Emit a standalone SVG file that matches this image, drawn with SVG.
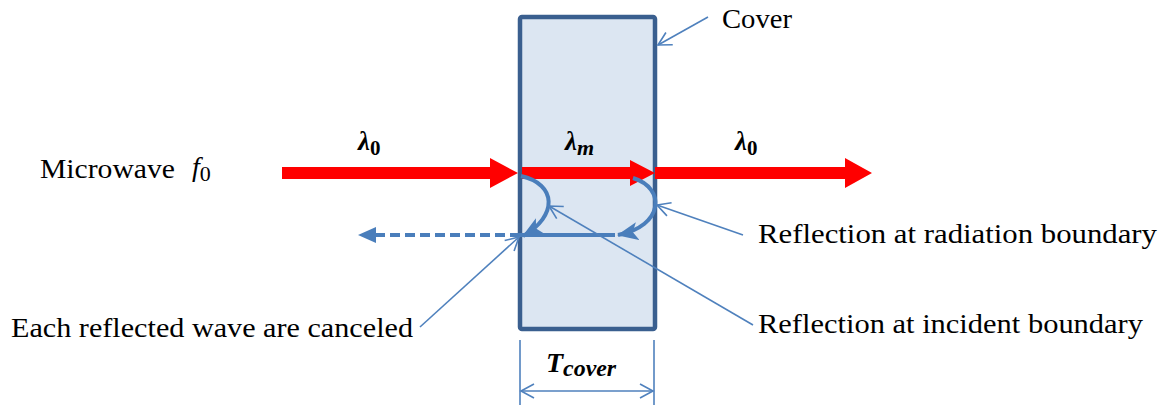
<svg xmlns="http://www.w3.org/2000/svg" width="1167" height="405" viewBox="0 0 1167 405">
<defs>
<style>
.lbl{font-family:"Liberation Serif","Times New Roman",serif;font-size:28px;fill:#000}
.math{font-family:"Liberation Serif","Times New Roman",serif;font-weight:bold;font-style:italic;fill:#000}
.call{stroke:#4f81bd;stroke-width:1.6;fill:none}
.blue{stroke:#4a7ebb;fill:none}
</style>
<marker id="open" markerWidth="16" markerHeight="16" refX="14" refY="8" orient="auto-start-reverse" markerUnits="userSpaceOnUse" viewBox="0 0 16 16">
<path d="M1,1 L14,8 L1,15" fill="none" stroke="#4f81bd" stroke-width="1.6"/>
</marker>
<marker id="solidL" markerWidth="20" markerHeight="16" refX="2" refY="8" orient="auto" markerUnits="userSpaceOnUse" viewBox="0 0 20 16">
<path d="M0,0 L18,8 L0,16 Z" fill="#4a7ebb"/>
</marker>
<marker id="curveHead" markerWidth="22" markerHeight="20" refX="20" refY="10" orient="auto" markerUnits="userSpaceOnUse" viewBox="0 0 22 20">
<path d="M21,10 L0,1 L5,10 L0,19 Z" fill="#4a7ebb"/>
</marker>
</defs>

<g id="cover">
<rect x="520" y="17" width="135" height="312" rx="2" fill="#dce6f2" stroke="#3a5f8f" stroke-width="4.5"/>
</g>

<g id="labels">
<text class="lbl" x="722" y="28" textLength="70" lengthAdjust="spacingAndGlyphs">Cover</text>
<text class="lbl" x="40" y="178" textLength="135" lengthAdjust="spacingAndGlyphs">Microwave</text>
<text x="192" y="176" style="font-family:'Liberation Serif',serif;font-style:italic;font-size:28px;fill:#000">f<tspan style="font-style:normal;font-size:22px" dy="5">0</tspan></text>
<text class="math" x="358" y="150" font-size="27">λ<tspan font-style="normal" font-size="21" dy="5">0</tspan></text>
<text class="math" x="565" y="150" font-size="27">λ<tspan font-size="22" dy="5">m</tspan></text>
<text class="math" x="735" y="150" font-size="27">λ<tspan font-style="normal" font-size="21" dy="5">0</tspan></text>
<text class="lbl" x="758" y="243" textLength="399" lengthAdjust="spacingAndGlyphs">Reflection at radiation boundary</text>
<text class="lbl" x="758" y="333" textLength="385" lengthAdjust="spacingAndGlyphs">Reflection at incident boundary</text>
<text class="lbl" x="11" y="337" textLength="402" lengthAdjust="spacingAndGlyphs">Each reflected wave are canceled</text>
<text class="math" x="546" y="372" font-size="28">T<tspan font-size="23" dy="4" textLength="53" lengthAdjust="spacingAndGlyphs">cover</tspan></text>
</g>

<g id="connectors">
<!-- red microwave arrows -->
<path d="M282,167 H490 V158 L518,173 L490,188 V179 H282 Z" fill="#ff0000"/>
<path d="M522,167 H630 V160 L655,173 L630,186 V179 H522 Z" fill="#ff0000"/>
<path d="M655,167 H845 V158 L872,173 L845,188 V179 H655 Z" fill="#ff0000"/>
<!-- reflection curves -->
<path class="blue" stroke-width="4" d="M521,176 C557,184 558,216 523,236" marker-end="url(#curveHead)"/>
<path class="blue" stroke-width="4" d="M633,178 C666,188 664,226 618,235" marker-end="url(#curveHead)"/>
<line class="blue" stroke-width="4" x1="520" y1="235" x2="615" y2="235"/>
<!-- dashed reflected wave -->
<line class="blue" stroke-width="4" stroke-dasharray="10,5" x1="520" y1="235" x2="374" y2="235" marker-end="url(#solidL)"/>
<!-- callouts -->
<line class="call" x1="708" y1="17" x2="658" y2="45" marker-end="url(#open)"/>
<line class="call" x1="743" y1="235" x2="657" y2="205" marker-end="url(#open)"/>
<line class="call" x1="753" y1="325" x2="549" y2="206" marker-end="url(#open)"/>
<line class="call" x1="420" y1="327" x2="519" y2="237" marker-end="url(#open)"/>
<!-- dimension -->
<line class="call" x1="520" y1="340" x2="520" y2="405"/>
<line class="call" x1="654" y1="340" x2="654" y2="405"/>
<line class="call" x1="521" y1="391" x2="653" y2="391" marker-start="url(#open)" marker-end="url(#open)"/>
</g>
</svg>
